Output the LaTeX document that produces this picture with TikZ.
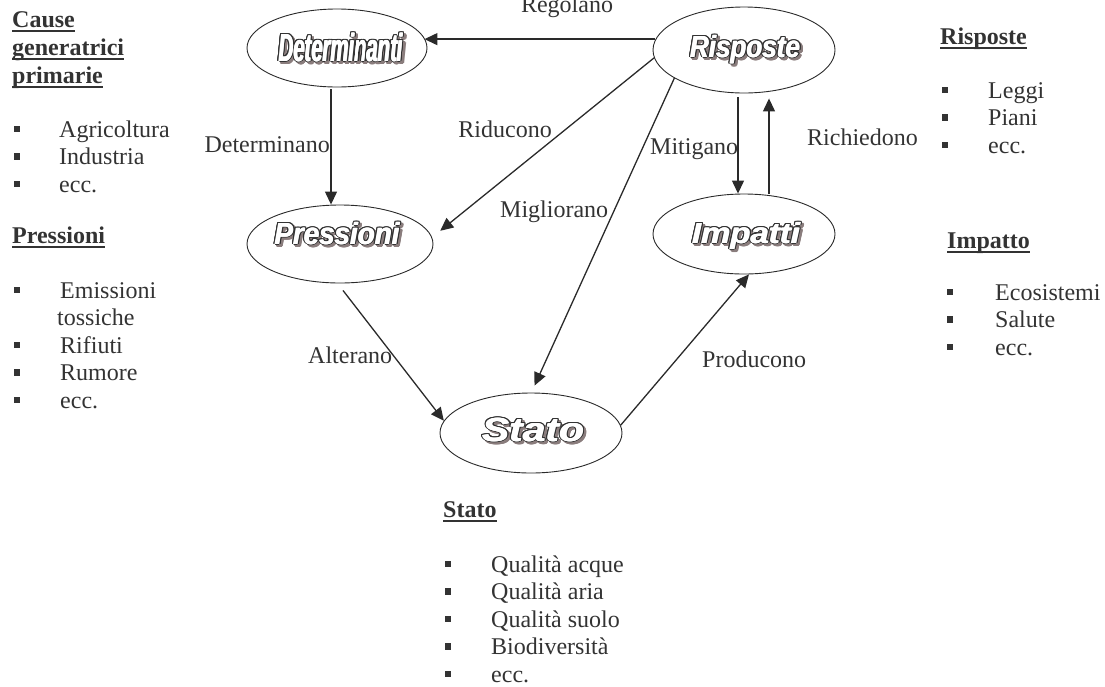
\documentclass[tikz,border=0pt]{standalone}
\usepackage{fontspec}
\setmainfont{Liberation Serif}
\newfontfamily\artfont{Liberation Sans}
\usetikzlibrary{shapes.geometric,arrows.meta,calc}

\definecolor{ink}{HTML}{333333}
\definecolor{wline}{HTML}{2A2A2A}
\definecolor{shadowc}{HTML}{8A7D7D}

% word set in bold italic sans, with fixed total width and cap height
\newcommand\setartword[4]{% box, width, cap height, word
  \pgfmathsetmacro\artsize{#3/0.688}%
  \setbox0\hbox{\artfont\bfseries\itshape\fontsize{\artsize pt}{\artsize pt}\selectfont #4}%
  \pgfmathsetmacro\artstretch{#2/\wd0}%
  \global\setbox#1\hbox{\artfont\bfseries\itshape\fontsize{\artsize pt}{\artsize pt}\selectfont
    \edef\artdo{\noexpand\addfontfeatures{FakeStretch=\artstretch}}\artdo #4}}
\newsavebox\artdet \newsavebox\artris \newsavebox\artpre
\newsavebox\artimp \newsavebox\artsta

% white word with a dark rim and an offset shadow
\newcommand\artword[4]{% name, x, y, box
  \foreach \a [count=\k] in {0,30,...,330}
    \node[art, text=shadowc] (#1-s\k) at ($(#2,#3)+({2.4+1.4*cos(\a)},{2.4+1.0*sin(\a)})$) {\usebox#4};
  \foreach \a [count=\k] in {0,22.5,...,337.5}
    \node[art, text=ink] (#1-o\k) at ($(#2,#3)+({1.5*cos(\a)},{1.0*sin(\a)})$) {\usebox#4};
  \node[art, text=white] (#1-w1) at ($(#2,#3)+(-0.45,0)$) {\usebox#4};
  \node[art, text=white] (#1-w2) at ($(#2,#3)+(0.45,0)$) {\usebox#4};
  \node[art, text=white] (#1) at (#2,#3) {\usebox#4};
}

% bold heading with a rule just under the baseline
\newcommand\uhead[1]{\setbox0\hbox{\bfseries #1}%
  \rlap{\rule[-4.5pt]{\wd0}{1.5pt}}\box0}

\tikzset{
  stage/.style={ellipse, draw=wline, line width=0.9pt, inner sep=0pt},
  art/.style={inner sep=0pt, anchor=base},
  lbl/.style={inner sep=0pt, text=ink, font=\fontsize{24}{28}\selectfont},
  flow/.style={draw=wline, line width=1.3pt, -{Triangle[length=13pt,width=12pt]}},
  bul/.style={rectangle, fill=ink, minimum size=6.5pt, inner sep=0pt},
}

% list item: name, bullet x, text x, baseline y, text
\newcommand\li[5]{%
  \node[bul] (#1b) at (#2,#4-8) {};
  \node[lbl, anchor=base west] (#1) at (#3,#4) {#5};}

\begin{document}
\setartword{\artdet}{124pt}{27pt}{Determinanti}%
\setartword{\artris}{110pt}{21pt}{Risposte}%
\setartword{\artpre}{125pt}{21pt}{Pressioni}%
\setartword{\artimp}{108pt}{20pt}{Impatti}%
\setartword{\artsta}{102pt}{23pt}{Stato}%
\begin{tikzpicture}[x=1pt,y=-1pt]
\useasboundingbox (0,0) rectangle (1105,686);

% the five stages
\node[stage, minimum width=180pt, minimum height=78pt] (det) at (337,48) {};
\node[stage, minimum width=182pt, minimum height=86pt] (ris) at (744,50) {};
\node[stage, minimum width=186pt, minimum height=78pt] (pre) at (340,244) {};
\node[stage, minimum width=182pt, minimum height=80pt] (imp) at (744,234) {};
\node[stage, minimum width=182pt, minimum height=80pt] (sta) at (531,433) {};

\artword{det-t}{341}{61}{\artdet}
\artword{ris-t}{745}{57}{\artris}
\artword{pre-t}{337}{244}{\artpre}
\artword{imp-t}{746}{243}{\artimp}
\artword{sta-t}{533}{441}{\artsta}

% connectors
\draw[flow] (ris.173) -- ($(ris.173 -| det.east)+(-3,0)$);
\draw[flow] ($(det.south)+(-6,2)$) -- ($(pre.north)+(-9,0)$);
\draw[flow] (ris.185) -- ($(pre.10)+(14,2)$);
\draw[flow] (ris.202) -- ($(sta.85)+(0,-7)$);
\draw[flow] ($(ris.south)+(-6,4)$) -- ($(imp.north)+(-6,0)$);
\draw[flow] ($(imp.north)+(25,0)$) -- ($(ris.south)+(25,5)$);
\draw[flow] ($(pre.south)+(3,7)$) -- (sta.172);
\draw[flow] (sta.5) -- (imp.277);

% connector labels
\node[lbl, anchor=base] (l-reg) at (567,12.5) {Regolano};
\node[lbl, anchor=base east] (l-det) at (330,152) {Determinano};
\node[lbl, anchor=base east] (l-rid) at (552,137) {Riducono};
\node[lbl, anchor=base west] (l-mig) at (500,217) {Migliorano};
\node[lbl, anchor=base west] (l-mit) at (650,154) {Mitigano};
\node[lbl, anchor=base west] (l-ric) at (807,145) {Richiedono};
\node[lbl, anchor=base west] (l-alt) at (308,363) {Alterano};
\node[lbl, anchor=base west] (l-pro) at (702,367) {Producono};

% left column
\node[lbl, anchor=base west] (h-cau1) at (12,27) {\uhead{Cause}};
\node[lbl, anchor=base west] (h-cau2) at (12,55) {\uhead{generatrici}};
\node[lbl, anchor=base west] (h-cau3) at (12,83) {\uhead{primarie}};
\li{c1}{17}{59}{137}{Agricoltura}
\li{c2}{17}{59}{164.5}{Industria}
\li{c3}{17}{59}{192}{ecc.}

\node[lbl, anchor=base west] (h-pre) at (12,243) {\uhead{Pressioni}};
\li{p1}{17}{60}{298}{Emissioni}
\node[lbl, anchor=base west] (p1x) at (57,325.5) {tossiche};
\li{p2}{17}{60}{353}{Rifiuti}
\li{p3}{17}{60}{380.5}{Rumore}
\li{p4}{17}{60}{408}{ecc.}

% right column
\node[lbl, anchor=base west] (h-ris) at (940,44) {\uhead{Risposte}};
\li{r1}{945}{988}{98}{Leggi}
\li{r2}{945}{988}{125.5}{Piani}
\li{r3}{945}{988}{153}{ecc.}

\node[lbl, anchor=base west] (h-imp) at (947,248) {\uhead{Impatto}};
\li{i1}{950}{995}{300}{Ecosistemi}
\li{i2}{950}{995}{327.5}{Salute}
\li{i3}{950}{995}{355}{ecc.}

% bottom column
\node[lbl, anchor=base west] (h-sta) at (443,517) {\uhead{Stato}};
\li{s1}{448}{491}{572}{Qualità acque}
\li{s2}{448}{491}{599.5}{Qualità aria}
\li{s3}{448}{491}{627}{Qualità suolo}
\li{s4}{448}{491}{654.5}{Biodiversità}
\li{s5}{448}{491}{682}{ecc.}
\end{tikzpicture}
\end{document}
